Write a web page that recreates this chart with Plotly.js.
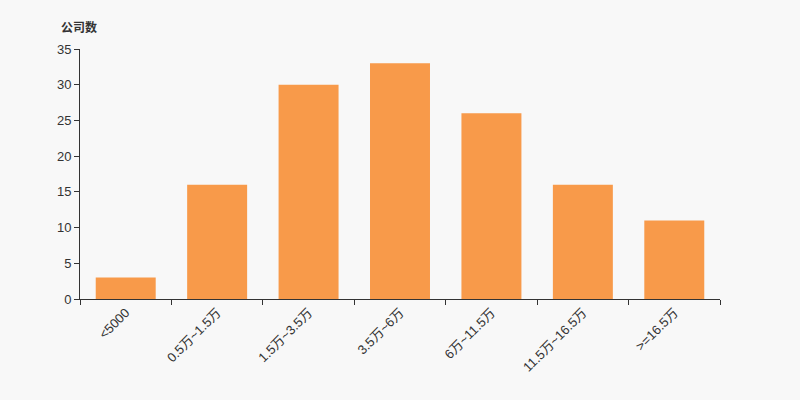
<!DOCTYPE html>
<html><head><meta charset="utf-8">
<script src="https://cdn.plot.ly/plotly-3.0.1.min.js"></script>
<style>html,body{margin:0;padding:0;background:#f8f8f8;}</style>
</head><body><div id="chart" style="width:800px;height:400px;"></div>
<script>
const categories = ["<5000","0.5万~1.5万","1.5万~3.5万","3.5万~6万","6万~11.5万","11.5万~16.5万",">=16.5万"];
const companyCounts = [3,16,30,33,26,16,11];
const yTitle = "公司数";

const font = '"Liberation Sans", "Noto Sans CJK SC", sans-serif';
Plotly.newPlot('chart', [{
  type: 'bar', x: categories, y: companyCounts,
  marker: {color: '#f89a4a'}, hoverinfo: 'x+y'
}], {
  width: 800, height: 400,
  paper_bgcolor: '#f8f8f8', plot_bgcolor: '#f8f8f8',
  margin: {l: 80, r: 80, t: 49, b: 101},
  bargap: 0.344,
  font: {family: font, size: 13, color: '#333'},
  xaxis: {
    type: 'category', tickson: 'boundaries', ticks: 'outside', ticklen: 5, tickcolor: '#333',
    showline: true, linecolor: '#333', linewidth: 1, showgrid: false, zeroline: false,
    tickangle: -45, tickfont: {size: 13, color: '#333'}, automargin: false
  },
  yaxis: {
    range: [0, 35], dtick: 5, ticks: 'outside', ticklen: 5, tickcolor: '#333',
    showline: true, linecolor: '#333', linewidth: 1, showgrid: false, zeroline: false,
    tickfont: {size: 13, color: '#333'}, automargin: false
  },
  annotations: [{
    text: '<b>' + yTitle + '</b>', xref: 'paper', yref: 'paper', x: -0.0281, y: 1.0, yshift: 12, xshift: -3,
    xanchor: 'left', yanchor: 'bottom', showarrow: false,
    font: {family: '"Noto Sans CJK SC", sans-serif', size: 12, color: '#333'}
  }],
  showlegend: false
}, {displayModeBar: false});
</script></body></html>
